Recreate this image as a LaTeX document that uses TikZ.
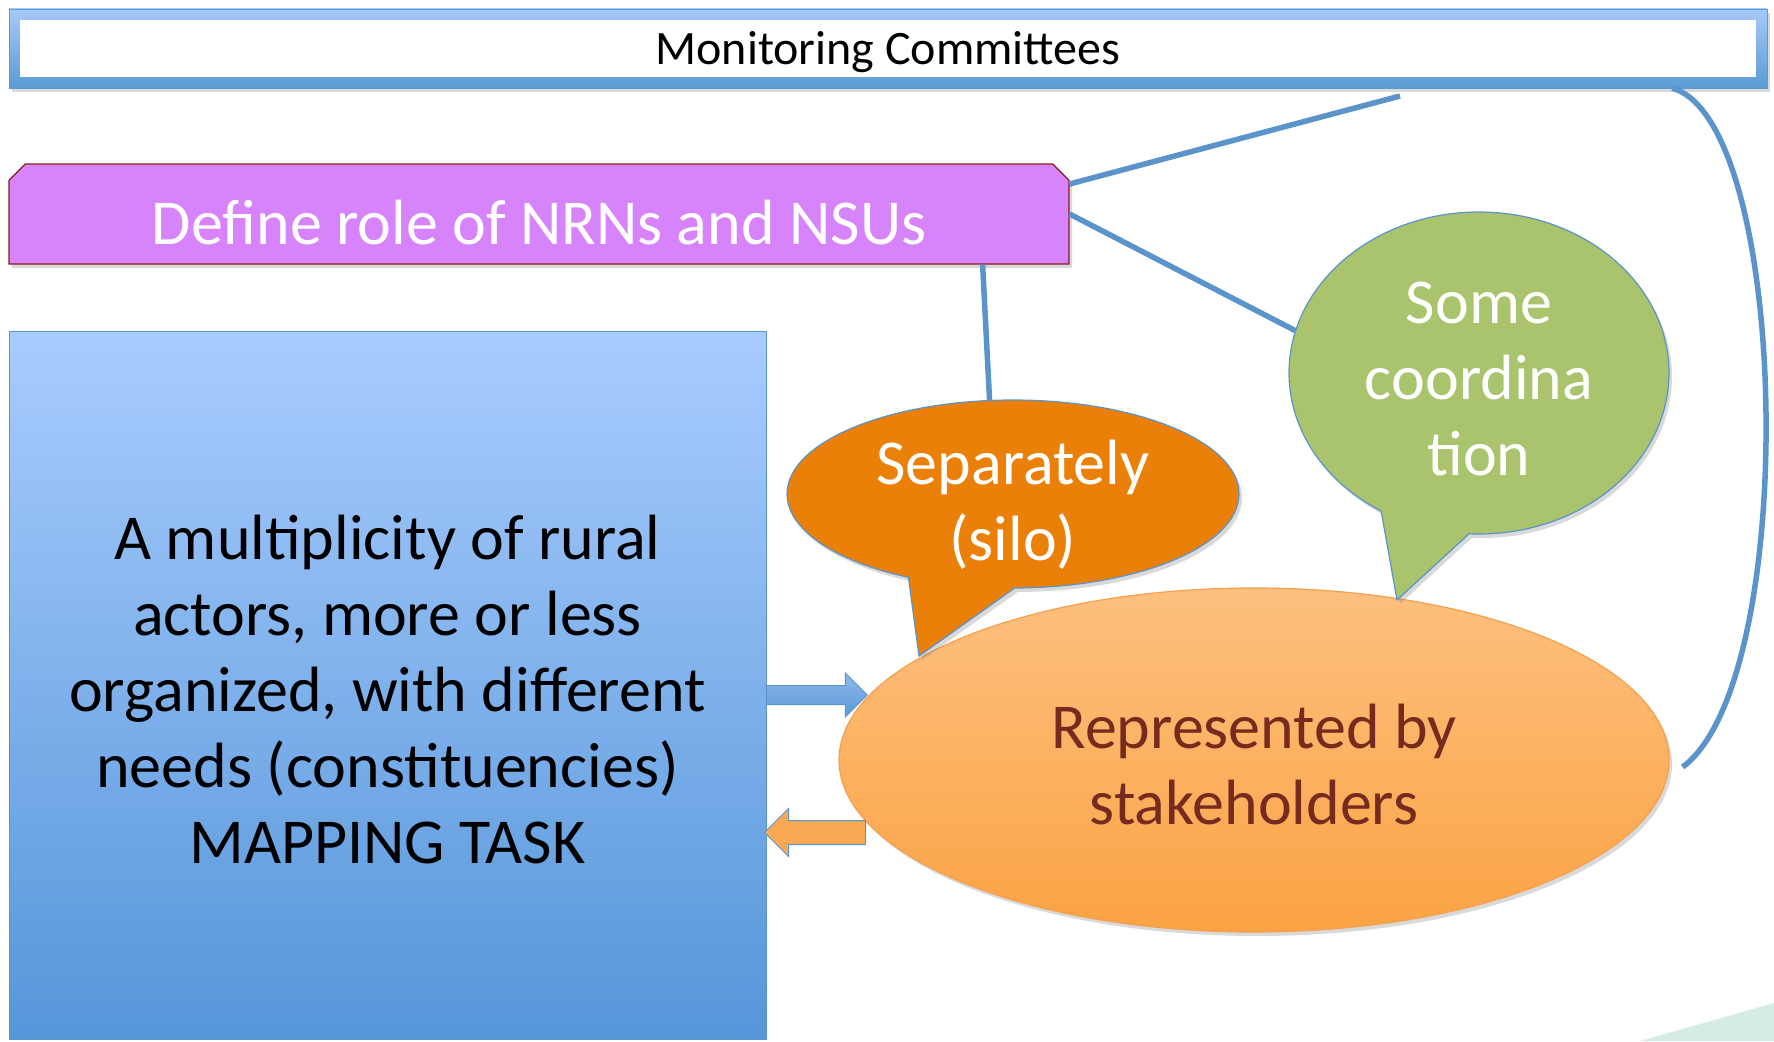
\documentclass[tikz,border=0pt]{standalone}
\usepackage{fontspec}
\setmainfont{Carlito}
\usetikzlibrary{shapes.geometric,shapes.misc,shapes.callouts,shapes.arrows,shadows}

\definecolor{barblue}{HTML}{5B9BD5}
\definecolor{barlight}{HTML}{A6C9F7}
\definecolor{linkblue}{HTML}{5B93CB}
\definecolor{rolepurple}{HTML}{D683FC}
\definecolor{rolered}{HTML}{8B1A1A}
\definecolor{boxtop}{HTML}{A9CCFE}
\definecolor{boxbottom}{HTML}{5596D9}
\definecolor{siloorange}{HTML}{EA8008}
\definecolor{coordgreen}{HTML}{A9C46C}
\definecolor{staketop}{HTML}{FDC07F}
\definecolor{stakebottom}{HTML}{FBA344}
\definecolor{stakeline}{HTML}{F4A04E}
\definecolor{staketext}{HTML}{772B1F}
\definecolor{arrowtop}{HTML}{8DB8EC}
\definecolor{arroworange}{HTML}{F9A953}
\definecolor{cornerteal}{HTML}{D5ECE5}

\begin{document}
\begin{tikzpicture}
        [
        x = 1pt, y = -1pt,
        every node/.style = {font=\fontsize{64}{76}\selectfont, align=center},
        link/.style = {draw=linkblue, line width=5.5pt},
        soft shadow/.style = {drop shadow={opacity=0.3, shadow xshift=3pt, shadow yshift=-4pt}},
        ]
        \tikzstyle{bar node}=[rectangle, minimum width=1758pt, minimum height=79pt, top color=barlight, bottom color=barblue, draw=barblue, soft shadow]
        \tikzstyle{title node}=[rectangle, minimum width=1736pt, minimum height=57pt, fill=white, font=\fontsize{48}{56}\selectfont, text height=40pt, text depth=7pt]
        \tikzstyle{role node}=[chamfered rectangle, chamfered rectangle corners={north west,north east}, chamfered rectangle xsep=13pt, minimum width=1060pt, minimum height=100pt, inner sep=0pt, text height=60pt, text depth=0pt, fill=rolepurple, draw=rolered, line width=1.2pt, text=white, soft shadow]
        \tikzstyle{actor node}=[rectangle, minimum width=757pt, minimum height=708pt, top color=boxtop, bottom color=boxbottom, draw=linkblue]
        \tikzstyle{silo node}=[ellipse callout, callout pointer arc=28, minimum width=452pt, minimum height=188pt, inner xsep=0pt, inner ysep=-15pt, fill=siloorange, draw=linkblue, line width=1.2pt, text=white, soft shadow]
        \tikzstyle{coord node}=[ellipse callout, callout pointer arc=28, minimum width=380pt, minimum height=322pt, inner sep=0pt, fill=coordgreen, draw=linkblue, line width=1.2pt, text=white, soft shadow]
        \tikzstyle{stake node}=[ellipse, minimum width=830pt, minimum height=344pt, inner sep=0pt, top color=staketop, bottom color=stakebottom, draw=stakeline, line width=1.2pt, text=staketext, soft shadow]
        \tikzstyle{push arrow}=[single arrow, minimum height=101pt, inner xsep=0pt, inner ysep=9pt, single arrow head extend=12.5pt, top color=arrowtop, bottom color=barblue, draw=linkblue, line width=1pt]
        \tikzstyle{pull arrow}=[single arrow, shape border rotate=180, minimum height=101pt, inner xsep=0pt, inner ysep=11.5pt, single arrow head extend=12pt, fill=arroworange, draw=linkblue, line width=1pt]

        \useasboundingbox (0,0) rectangle (1774,1041);
        \fill[cornerteal] (1640,1041) -- (1774,1003) -- (1774,1041) -- cycle;

        \node[bar node] (bar) at (888,48.5) {};
        \node[title node] (monitor) at (888,48.5) {Monitoring Committees};

        \node[role node] (role) at (539,214) {Define role of NRNs and NSUs};

        \node[actor node] (actors) at (387.5,685) {\rule{0pt}{53pt}A multiplicity of rural\\actors, more or less\\organized, with different\\needs (constituencies)\\MAPPING TASK};

        \node[stake node] (stake) at (1254,760) {\rule{0pt}{53pt}Represented by\\stakeholders};

        \node[silo node, callout absolute pointer={(919,656)}] (silo) at (1013,494) {\rule{0pt}{66pt}Separately\\(silo)};
        \node[coord node, callout absolute pointer={(1397,600)}] (coord) at (1479,373) {\rule{0pt}{53pt}Some\\coordina\\tion};

        \node[push arrow] (toright) at (812,695) {};
        \node[pull arrow] (toleft) at (821,832.5) {};

        \coordinate (free) at (1400,96);
        \draw[link] ([yshift=30pt]role.east) -- (free);
        \draw[link] (role.east) -- (coord.167);
        \draw[link] ([xshift=-87pt]role.south east) -- (silo.104);
        \draw[link] ([xshift=-95pt]bar.south east) .. controls +(118,32) and +(118,-87) .. ([xshift=13pt,yshift=-7pt]stake.east);
    \end{tikzpicture}
\end{document}
